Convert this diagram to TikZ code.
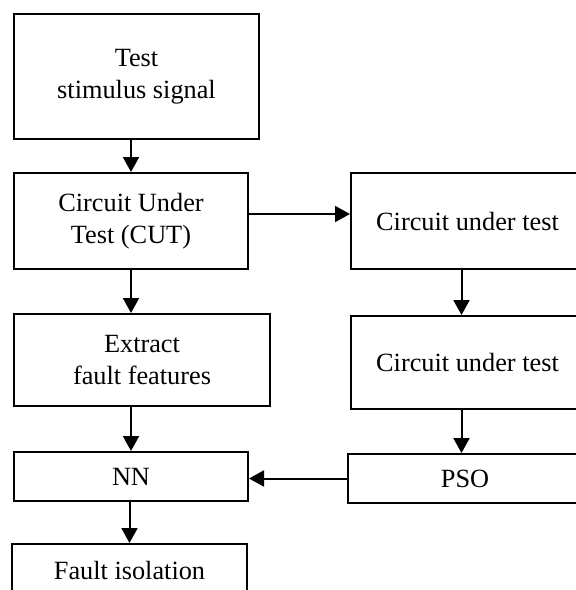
\documentclass[tikz,border=0pt]{standalone}
\usepackage{fontspec}
\setmainfont{Liberation Serif}
\usetikzlibrary{arrows.meta}
\begin{document}
\begin{tikzpicture}[x=1pt,y=-1pt,
every node/.style={font=\fontsize{26.3}{32}\selectfont},
box/.style={%
draw,
line width=2pt,
anchor=center,
align=center,
inner sep=0pt
},
arr/.style={%
line width=2pt,
-{Triangle[width=16pt,length=15pt]}
}]
\useasboundingbox (0,0) rectangle (576,590);
\clip (0,0) rectangle (576,590);
% left column
\node[box,minimum width=245,minimum height=125] (stim) at(136.5,76.5){Test\\stimulus signal};
\node[box,minimum width=234,minimum height=96] (cut) at(131,221){Circuit Under\\Test (CUT)};
\node[box,minimum width=256,minimum height=92] (feat) at(142,360){Extract\\fault features};
\node[box,minimum width=234,minimum height=49] (nn) at(131,476.5){NN};
\node[box,minimum width=235,minimum height=52] (iso) at(129.5,570){Fault isolation};
% right column
\node[box,minimum width=233,minimum height=96] (cutr) at(467.5,221){Circuit under test};
\node[box,minimum width=233,minimum height=93] (cutb) at(467.5,362.5){Circuit under test};
\node[box,minimum width=234,minimum height=49] (pso) at(465,478.5){PSO};
% connectors
\draw[arr] (cut.north |- stim.south) -- (cut.north);
\draw[arr] ([yshift=7pt]cut.east) -- ([yshift=7pt]cut.east -| cutr.west);
\draw[arr] (cut.south) -- (cut.south |- feat.north);
\draw[arr] (nn.north |- feat.south) -- (nn.north);
\draw[arr] (iso.north |- nn.south) -- (iso.north);
\draw[arr] ([xshift=-6pt]cutr.south) -- ([xshift=-6pt]cutr.south |- cutb.north);
\draw[arr] ([xshift=-6pt]cutb.south) -- ([xshift=-6pt]cutb.south |- pso.north);
\draw[arr] (pso.west) -- (pso.west -| nn.east);
\end{tikzpicture}
\end{document}
